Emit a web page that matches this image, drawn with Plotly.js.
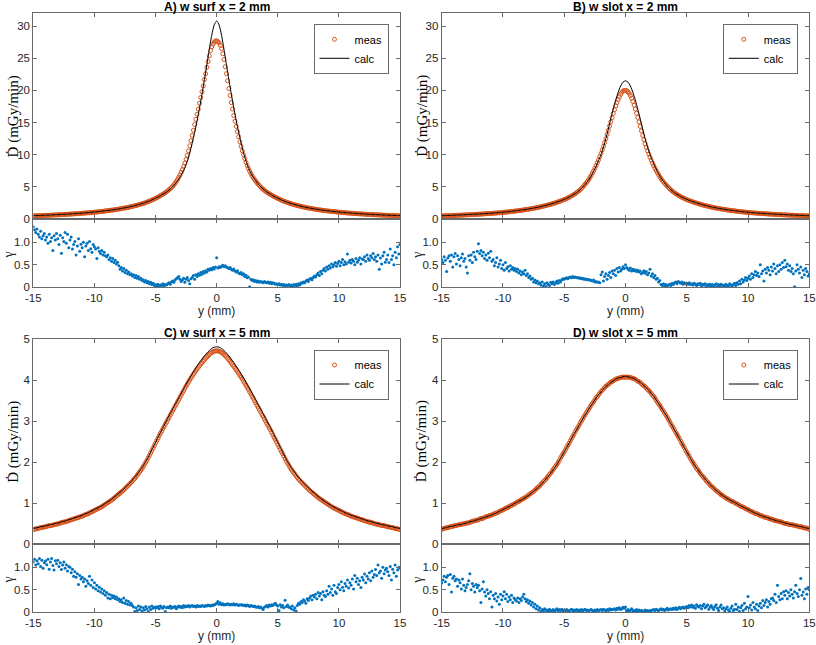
<!DOCTYPE html>
<html>
<head>
<meta charset="utf-8">
<script src="https://cdn.plot.ly/plotly-3.0.1.min.js"></script>
<style>
  html, body { margin: 0; padding: 0; background: #fff; }
  #chart { width: 816px; height: 645px; }
</style>
</head>
<body>
<div id="chart"></div>
<script>
// Lateral positions of the calculated profile (mm)
const yCalc = [
  -15,-14.8,-14.6,-14.4,-14.2,-14,-13.8,-13.6,-13.4,-13.2,
  -13,-12.8,-12.6,-12.4,-12.2,-12,-11.8,-11.6,-11.4,-11.2,
  -11,-10.8,-10.6,-10.4,-10.2,-10,-9.8,-9.6,-9.4,-9.2,
  -9,-8.8,-8.6,-8.4,-8.2,-8,-7.8,-7.6,-7.4,-7.2,
  -7,-6.8,-6.6,-6.4,-6.2,-6,-5.8,-5.6,-5.4,-5.2,
  -5,-4.8,-4.6,-4.4,-4.2,-4,-3.8,-3.6,-3.4,-3.2,
  -3,-2.8,-2.6,-2.4,-2.2,-2,-1.8,-1.6,-1.4,-1.2,
  -1,-0.8,-0.6,-0.4,-0.2,0,0.2,0.4,0.6,0.8,
  1,1.2,1.4,1.6,1.8,2,2.2,2.4,2.6,2.8,
  3,3.2,3.4,3.6,3.8,4,4.2,4.4,4.6,4.8,
  5,5.2,5.4,5.6,5.8,6,6.2,6.4,6.6,6.8,
  7,7.2,7.4,7.6,7.8,8,8.2,8.4,8.6,8.8,
  9,9.2,9.4,9.6,9.8,10,10.2,10.4,10.6,10.8,
  11,11.2,11.4,11.6,11.8,12,12.2,12.4,12.6,12.8,
  13,13.2,13.4,13.6,13.8,14,14.2,14.4,14.6,14.8,15
];

// Lateral positions of the measured samples and gamma values (mm)
const yMeas = [
  -15,-14.9,-14.8,-14.7,-14.6,-14.5,-14.4,-14.3,-14.2,-14.1,
  -14,-13.9,-13.8,-13.7,-13.6,-13.5,-13.4,-13.3,-13.2,-13.1,
  -13,-12.9,-12.8,-12.7,-12.6,-12.5,-12.4,-12.3,-12.2,-12.1,
  -12,-11.9,-11.8,-11.7,-11.6,-11.5,-11.4,-11.3,-11.2,-11.1,
  -11,-10.9,-10.8,-10.7,-10.6,-10.5,-10.4,-10.3,-10.2,-10.1,
  -10,-9.9,-9.8,-9.7,-9.6,-9.5,-9.4,-9.3,-9.2,-9.1,
  -9,-8.9,-8.8,-8.7,-8.6,-8.5,-8.4,-8.3,-8.2,-8.1,
  -8,-7.9,-7.8,-7.7,-7.6,-7.5,-7.4,-7.3,-7.2,-7.1,
  -7,-6.9,-6.8,-6.7,-6.6,-6.5,-6.4,-6.3,-6.2,-6.1,
  -6,-5.9,-5.8,-5.7,-5.6,-5.5,-5.4,-5.3,-5.2,-5.1,
  -5,-4.9,-4.8,-4.7,-4.6,-4.5,-4.4,-4.3,-4.2,-4.1,
  -4,-3.9,-3.8,-3.7,-3.6,-3.5,-3.4,-3.3,-3.2,-3.1,
  -3,-2.9,-2.8,-2.7,-2.6,-2.5,-2.4,-2.3,-2.2,-2.1,
  -2,-1.9,-1.8,-1.7,-1.6,-1.5,-1.4,-1.3,-1.2,-1.1,
  -1,-0.9,-0.8,-0.7,-0.6,-0.5,-0.4,-0.3,-0.2,-0.1,
  0,0.1,0.2,0.3,0.4,0.5,0.6,0.7,0.8,0.9,
  1,1.1,1.2,1.3,1.4,1.5,1.6,1.7,1.8,1.9,
  2,2.1,2.2,2.3,2.4,2.5,2.6,2.7,2.8,2.9,
  3,3.1,3.2,3.3,3.4,3.5,3.6,3.7,3.8,3.9,
  4,4.1,4.2,4.3,4.4,4.5,4.6,4.7,4.8,4.9,
  5,5.1,5.2,5.3,5.4,5.5,5.6,5.7,5.8,5.9,
  6,6.1,6.2,6.3,6.4,6.5,6.6,6.7,6.8,6.9,
  7,7.1,7.2,7.3,7.4,7.5,7.6,7.7,7.8,7.9,
  8,8.1,8.2,8.3,8.4,8.5,8.6,8.7,8.8,8.9,
  9,9.1,9.2,9.3,9.4,9.5,9.6,9.7,9.8,9.9,
  10,10.1,10.2,10.3,10.4,10.5,10.6,10.7,10.8,10.9,
  11,11.1,11.2,11.3,11.4,11.5,11.6,11.7,11.8,11.9,
  12,12.1,12.2,12.3,12.4,12.5,12.6,12.7,12.8,12.9,
  13,13.1,13.2,13.3,13.4,13.5,13.6,13.7,13.8,13.9,
  14,14.1,14.2,14.3,14.4,14.5,14.6,14.7,14.8,14.9,15
];

// A) w surf, x = 2 mm  (mGy/min)
const measA = [
  0.49,0.49,0.50,0.51,0.51,0.52,0.53,0.53,0.54,0.55,
  0.56,0.57,0.58,0.58,0.59,0.60,0.61,0.62,0.63,0.64,
  0.65,0.66,0.67,0.68,0.69,0.70,0.71,0.72,0.73,0.75,
  0.76,0.77,0.78,0.80,0.81,0.82,0.83,0.85,0.86,0.88,
  0.89,0.91,0.92,0.94,0.95,0.97,0.98,1.00,1.02,1.03,
  1.05,1.07,1.09,1.11,1.13,1.16,1.18,1.20,1.22,1.25,
  1.27,1.30,1.32,1.35,1.37,1.40,1.42,1.45,1.48,1.51,
  1.54,1.58,1.61,1.65,1.68,1.72,1.75,1.79,1.83,1.87,
  1.91,1.96,2.00,2.05,2.10,2.15,2.20,2.25,2.31,2.37,
  2.43,2.49,2.56,2.63,2.70,2.78,2.86,2.94,3.03,3.12,
  3.21,3.31,3.41,3.51,3.62,3.74,3.86,3.98,4.10,4.24,
  4.38,4.55,4.72,4.90,5.10,5.32,5.56,5.84,6.15,6.48,
  6.85,7.26,7.7,8.18,8.7,9.28,9.9,10.6,11.4,12.2,
  13.0,13.8,14.7,15.5,16.3,17.1,18.0,18.9,19.8,20.7,
  21.7,22.6,23.6,24.5,25.4,26.2,26.8,27.2,27.5,27.7,
  27.7,27.6,27.4,27.0,26.5,25.7,24.8,23.7,22.6,21.5,
  20.3,19.2,18.1,17.1,16.1,15.2,14.4,13.6,12.8,12.0,
  11.3,10.6,10.0,9.4,8.8,8.3,7.85,7.44,7.05,6.71,
  6.4,6.13,5.88,5.63,5.40,5.18,4.98,4.79,4.62,4.46,
  4.31,4.18,4.05,3.93,3.82,3.71,3.60,3.49,3.39,3.29,
  3.20,3.11,3.02,2.93,2.85,2.77,2.70,2.63,2.56,2.49,
  2.43,2.37,2.31,2.25,2.20,2.15,2.10,2.05,2.00,1.95,
  1.91,1.87,1.83,1.79,1.75,1.71,1.68,1.64,1.61,1.57,
  1.54,1.51,1.48,1.45,1.42,1.40,1.37,1.35,1.32,1.30,
  1.27,1.25,1.23,1.20,1.18,1.16,1.14,1.12,1.10,1.08,
  1.06,1.04,1.02,1.01,0.99,0.97,0.96,0.94,0.93,0.91,
  0.90,0.88,0.87,0.85,0.84,0.83,0.82,0.80,0.79,0.78,
  0.77,0.75,0.74,0.73,0.72,0.71,0.70,0.69,0.68,0.67,
  0.66,0.65,0.64,0.63,0.62,0.61,0.60,0.59,0.59,0.58,
  0.57,0.56,0.55,0.54,0.54,0.53,0.52,0.51,0.51,0.50,0.49
];
const calcA = [
  0.51,0.53,0.54,0.56,0.57,0.59,0.61,0.62,0.64,0.66,
  0.68,0.70,0.72,0.74,0.76,0.79,0.81,0.84,0.86,0.89,
  0.92,0.95,0.98,1.01,1.05,1.08,1.12,1.16,1.21,1.25,
  1.30,1.35,1.40,1.45,1.51,1.57,1.64,1.71,1.78,1.86,
  1.94,2.03,2.13,2.23,2.34,2.46,2.59,2.73,2.88,3.05,
  3.23,3.42,3.62,3.85,4.08,4.35,4.66,5.02,5.45,5.95,
  6.5,7.15,8.0,9.0,10.3,11.8,13.5,15.3,17.3,19.4,
  21.7,24.0,26.4,28.6,30.2,30.8,
  30.2,28.6,26.4,24.0,21.7,
  19.4,17.3,15.3,13.5,11.8,10.3,9.0,8.0,7.15,6.5,
  5.95,5.45,5.02,4.66,4.35,4.08,3.85,3.62,3.42,3.23,
  3.05,2.88,2.73,2.59,2.46,2.34,2.23,2.13,2.03,1.94,
  1.86,1.78,1.71,1.64,1.57,1.51,1.45,1.40,1.35,1.30,
  1.25,1.21,1.16,1.12,1.08,1.05,1.01,0.98,0.95,0.92,
  0.89,0.86,0.84,0.81,0.79,0.76,0.74,0.72,0.70,0.68,
  0.66,0.64,0.62,0.61,0.59,0.57,0.56,0.54,0.53,0.51
];
const gammaA = [
  1.35,1.28,1.22,1.30,1.18,1.12,1.25,1.08,1.15,1.20,
  1.05,1.12,0.98,1.18,1.02,1.10,0.82,1.15,1.05,1.20,
  1.08,0.95,1.16,0.76,1.10,1.02,1.22,0.98,1.18,0.88,
  1.05,1.12,0.85,0.95,1.02,0.72,0.92,1.08,0.80,0.96,
  0.88,1.00,0.68,0.92,0.98,0.82,1.02,0.86,0.78,0.95,
  0.90,0.85,0.64,0.88,0.80,0.75,0.82,0.72,0.78,0.70,
  0.68,0.72,0.62,0.66,0.58,0.64,0.55,0.60,0.52,0.56,
  0.48,0.40,0.44,0.36,0.42,0.33,0.38,0.30,0.34,0.28,
  0.30,0.25,0.28,0.22,0.26,0.20,0.24,0.18,0.20,0.15,
  0.17,0.12,0.15,0.10,0.13,0.08,0.11,0.06,0.09,0.04,
  0.06,0.03,0.07,0.02,0.05,0.04,0.08,0.03,0.06,0.05,
  0.08,0.10,0.07,0.12,0.14,0.11,0.16,0.19,0.21,0.24,
  0.18,0.13,0.16,0.20,0.11,0.18,0.22,0.15,0.08,0.19,
  0.22,0.26,0.18,0.28,0.24,0.30,0.27,0.33,0.29,0.35,
  0.32,0.37,0.34,0.40,0.38,0.42,0.39,0.44,0.41,0.45,
  0.66,0.43,0.46,0.44,0.47,0.49,0.46,0.48,0.45,0.44,
  0.42,0.44,0.40,0.38,0.41,0.36,0.34,0.37,0.32,0.30,
  0.33,0.28,0.30,0.24,0.27,0.21,0.23,0.01,0.18,0.15,
  0.17,0.13,0.15,0.12,0.14,0.11,0.13,0.12,0.10,0.13,
  0.11,0.10,0.12,0.09,0.11,0.08,0.10,0.09,0.07,0.08,
  0.06,0.08,0.05,0.07,0.04,0.06,0.03,0.05,0.04,0.06,
  0.03,0.05,0.02,0.06,0.04,0.07,0.03,0.08,0.05,0.10,
  0.09,0.12,0.10,0.14,0.16,0.13,0.18,0.20,0.17,0.22,
  0.25,0.23,0.28,0.32,0.26,0.35,0.30,0.38,0.42,0.36,
  0.45,0.40,0.48,0.43,0.52,0.46,0.50,0.55,0.47,0.53,
  0.58,0.48,0.55,0.62,0.50,0.57,0.52,0.74,0.56,0.60,
  0.54,0.62,0.58,0.50,0.64,0.56,0.60,0.66,0.52,0.63,
  0.62,0.68,0.58,0.72,0.64,0.60,0.70,0.66,0.75,0.62,
  0.68,0.58,0.72,0.40,0.65,0.52,0.70,0.78,0.56,0.62,
  0.72,0.55,0.85,0.62,0.70,0.50,0.78,0.66,0.90,0.74,0.95
];

// B) w slot, x = 2 mm
const measB = [
  0.48,0.49,0.50,0.50,0.51,0.51,0.52,0.53,0.54,0.54,
  0.55,0.56,0.57,0.58,0.59,0.59,0.60,0.61,0.62,0.63,
  0.64,0.65,0.66,0.67,0.68,0.69,0.70,0.71,0.72,0.73,
  0.74,0.75,0.76,0.78,0.79,0.80,0.81,0.83,0.84,0.85,
  0.86,0.88,0.89,0.91,0.92,0.94,0.95,0.97,0.99,1.00,
  1.02,1.04,1.06,1.08,1.10,1.12,1.14,1.17,1.19,1.21,
  1.23,1.26,1.28,1.31,1.33,1.36,1.38,1.41,1.44,1.47,
  1.50,1.53,1.56,1.60,1.63,1.67,1.70,1.74,1.78,1.82,
  1.86,1.90,1.95,2.00,2.04,2.09,2.14,2.19,2.24,2.30,
  2.35,2.41,2.47,2.53,2.60,2.66,2.73,2.80,2.87,2.95,
  3.02,3.10,3.19,3.28,3.38,3.48,3.59,3.71,3.83,3.95,
  4.08,4.23,4.39,4.56,4.75,4.95,5.17,5.39,5.63,5.88,
  6.15,6.47,6.8,7.15,7.5,7.9,8.3,8.75,9.2,9.7,
  10.2,10.75,11.3,11.9,12.5,13.15,13.8,14.45,15.1,15.75,
  16.4,17.0,17.6,18.1,18.6,19.0,19.4,19.7,19.9,20.0,
  20.0,19.95,19.8,19.55,19.2,18.8,18.3,17.7,17.1,16.45,
  15.8,15.1,14.4,13.7,13.0,12.35,11.7,11.15,10.6,10.1,
  9.6,9.15,8.7,8.3,7.9,7.55,7.2,6.87,6.55,6.27,
  6.0,5.77,5.55,5.33,5.11,4.91,4.72,4.54,4.37,4.22,
  4.07,3.94,3.82,3.70,3.59,3.48,3.38,3.28,3.19,3.10,
  3.02,2.94,2.87,2.80,2.73,2.66,2.60,2.53,2.47,2.41,
  2.35,2.30,2.24,2.19,2.14,2.09,2.04,2.00,1.95,1.90,
  1.86,1.82,1.78,1.74,1.70,1.67,1.63,1.60,1.56,1.53,
  1.50,1.47,1.44,1.41,1.38,1.36,1.33,1.31,1.28,1.26,
  1.23,1.21,1.19,1.17,1.14,1.12,1.10,1.08,1.06,1.04,
  1.02,1.00,0.99,0.97,0.95,0.94,0.92,0.91,0.89,0.88,
  0.86,0.85,0.84,0.83,0.81,0.80,0.79,0.78,0.76,0.75,
  0.74,0.73,0.72,0.71,0.70,0.69,0.68,0.67,0.66,0.65,
  0.64,0.63,0.62,0.61,0.60,0.59,0.59,0.58,0.57,0.56,
  0.55,0.54,0.54,0.53,0.52,0.51,0.51,0.50,0.50,0.49,0.48
];
const calcB = [
  0.51,0.52,0.54,0.55,0.57,0.58,0.60,0.62,0.63,0.65,
  0.67,0.69,0.71,0.73,0.75,0.77,0.79,0.82,0.84,0.87,
  0.89,0.92,0.95,0.98,1.02,1.05,1.09,1.13,1.17,1.22,
  1.26,1.31,1.36,1.41,1.47,1.53,1.59,1.66,1.73,1.81,
  1.89,1.98,2.07,2.17,2.27,2.38,2.50,2.63,2.76,2.90,
  3.05,3.22,3.41,3.62,3.85,4.1,4.4,4.75,5.15,5.6,
  6.1,6.7,7.4,8.2,9.1,10.0,11.2,12.5,14.0,15.6,
  17.1,18.5,19.7,20.7,21.3,21.5,
  21.3,20.7,19.7,18.5,17.1,15.6,14.0,12.5,11.2,10.0,
  9.1,8.2,7.4,6.7,6.1,5.6,5.15,4.75,4.4,4.1,
  3.85,3.62,3.41,3.22,3.05,2.90,2.76,2.63,2.50,2.38,
  2.27,2.17,2.07,1.98,1.89,1.81,1.73,1.66,1.59,1.53,
  1.47,1.41,1.36,1.31,1.26,1.22,1.17,1.13,1.09,1.05,
  1.02,0.98,0.95,0.92,0.89,0.87,0.84,0.82,0.79,0.77,
  0.75,0.73,0.71,0.69,0.67,0.65,0.63,0.62,0.60,0.58,
  0.57,0.55,0.54,0.52,0.51
];
const gammaB = [
  0.62,0.55,0.68,0.60,0.35,0.65,0.70,0.58,0.72,0.45,
  0.68,0.75,0.52,0.70,0.62,0.48,0.66,0.74,0.58,0.64,
  0.45,0.32,0.70,0.60,0.72,0.55,0.78,0.68,0.62,0.80,
  0.97,0.75,0.82,0.70,0.78,0.64,0.72,0.60,0.76,0.66,
  0.80,0.58,0.62,0.48,0.55,0.66,0.45,0.52,0.60,0.42,
  0.50,0.38,0.55,0.42,0.46,0.36,0.48,0.40,0.44,0.38,
  0.42,0.35,0.40,0.32,0.36,0.28,0.34,0.30,0.38,0.26,
  0.30,0.22,0.25,0.18,0.20,0.12,0.16,0.10,0.14,0.08,
  0.10,0.05,0.12,0.03,0.08,0.02,0.10,0.06,0.04,0.11,
  0.08,0.12,0.06,0.10,0.14,0.09,0.15,0.12,0.17,0.19,
  0.18,0.20,0.21,0.19,0.22,0.23,0.21,0.24,0.22,0.23,
  0.21,0.22,0.20,0.21,0.19,0.20,0.18,0.19,0.17,0.18,
  0.16,0.17,0.15,0.14,0.16,0.12,0.13,0.11,0.12,0.10,
  0.28,0.34,0.14,0.24,0.30,0.18,0.26,0.33,0.22,0.36,
  0.30,0.38,0.26,0.42,0.34,0.44,0.36,0.40,0.46,0.42,
  0.50,0.44,0.41,0.38,0.43,0.36,0.40,0.37,0.39,0.35,
  0.38,0.34,0.36,0.30,0.33,0.37,0.31,0.35,0.28,0.32,
  0.40,0.25,0.30,0.22,0.26,0.18,0.20,0.12,0.15,0.06,
  0.04,0.08,0.03,0.06,0.02,0.05,0.07,0.04,0.09,0.06,
  0.10,0.12,0.08,0.13,0.11,0.09,0.12,0.07,0.10,0.08,
  0.09,0.07,0.10,0.06,0.08,0.05,0.09,0.07,0.04,0.08,
  0.06,0.09,0.03,0.07,0.05,0.08,0.02,0.06,0.04,0.07,
  0.03,0.06,0.01,0.05,0.08,0.02,0.06,0.03,0.07,0.04,
  0.05,0.02,0.07,0.04,0.03,0.08,0.05,0.02,0.06,0.09,
  0.04,0.10,0.07,0.14,0.08,0.18,0.12,0.16,0.22,0.15,
  0.20,0.25,0.18,0.30,0.22,0.28,0.35,0.26,0.32,0.24,
  0.50,0.30,0.36,0.14,0.40,0.32,0.44,0.38,0.28,0.45,
  0.36,0.52,0.42,0.30,0.48,0.35,0.50,0.40,0.55,0.44,
  0.60,0.46,0.52,0.38,0.48,0.35,0.42,0.30,0.01,0.36,
  0.50,0.40,0.32,0.45,0.22,0.38,0.28,0.42,0.35,0.25,0.30
];

// C) w surf, x = 5 mm
const measC = [
  0.35,0.36,0.37,0.375,0.38,0.39,0.40,0.405,0.41,0.415,
  0.42,0.43,0.44,0.445,0.45,0.455,0.46,0.47,0.48,0.485,
  0.49,0.50,0.51,0.52,0.53,0.535,0.54,0.55,0.56,0.57,
  0.58,0.59,0.60,0.61,0.62,0.63,0.64,0.65,0.66,0.67,
  0.68,0.69,0.71,0.72,0.73,0.74,0.76,0.77,0.79,0.80,
  0.82,0.83,0.85,0.86,0.88,0.89,0.91,0.93,0.95,0.97,
  0.99,1.01,1.03,1.05,1.07,1.09,1.12,1.14,1.17,1.19,
  1.22,1.24,1.27,1.29,1.32,1.35,1.38,1.41,1.44,1.47,
  1.50,1.53,1.57,1.60,1.64,1.68,1.72,1.76,1.80,1.84,
  1.89,1.94,1.99,2.04,2.10,2.16,2.22,2.28,2.34,2.40,
  2.46,2.52,2.58,2.64,2.70,2.75,2.81,2.86,2.92,2.97,
  3.03,3.08,3.14,3.19,3.25,3.30,3.36,3.41,3.47,3.52,
  3.58,3.63,3.69,3.74,3.80,3.85,3.90,3.95,4.00,4.05,
  4.09,4.14,4.18,4.23,4.27,4.31,4.35,4.39,4.42,4.46,
  4.49,4.53,4.56,4.59,4.62,4.65,4.67,4.69,4.70,4.71,
  4.71,4.71,4.70,4.69,4.67,4.65,4.62,4.59,4.56,4.53,
  4.49,4.45,4.41,4.37,4.33,4.29,4.25,4.20,4.16,4.11,
  4.07,4.02,3.97,3.92,3.87,3.82,3.77,3.71,3.66,3.60,
  3.55,3.49,3.44,3.38,3.33,3.27,3.22,3.16,3.11,3.05,
  3.00,2.94,2.89,2.83,2.78,2.72,2.66,2.60,2.55,2.49,
  2.43,2.37,2.31,2.25,2.20,2.14,2.08,2.02,1.97,1.92,
  1.87,1.82,1.78,1.74,1.70,1.66,1.62,1.58,1.55,1.52,
  1.49,1.46,1.43,1.40,1.37,1.34,1.31,1.28,1.26,1.23,
  1.21,1.18,1.16,1.13,1.11,1.09,1.07,1.05,1.03,1.01,
  0.99,0.97,0.95,0.93,0.91,0.89,0.88,0.86,0.85,0.83,
  0.82,0.80,0.79,0.77,0.76,0.74,0.73,0.72,0.71,0.69,
  0.68,0.67,0.66,0.65,0.64,0.63,0.62,0.61,0.60,0.59,
  0.58,0.57,0.56,0.55,0.54,0.535,0.53,0.52,0.51,0.50,
  0.49,0.485,0.48,0.47,0.46,0.455,0.45,0.445,0.44,0.43,
  0.42,0.415,0.41,0.405,0.40,0.39,0.38,0.375,0.37,0.36,0.35
];
const calcC = [
  0.38,0.39,0.40,0.42,0.43,0.44,0.46,0.47,0.48,0.50,
  0.51,0.53,0.55,0.56,0.58,0.60,0.62,0.64,0.66,0.68,
  0.70,0.73,0.75,0.78,0.81,0.84,0.87,0.90,0.93,0.97,
  1.01,1.05,1.09,1.14,1.19,1.24,1.29,1.34,1.40,1.46,
  1.52,1.59,1.66,1.74,1.82,1.91,2.01,2.12,2.24,2.36,
  2.48,2.60,2.72,2.84,2.95,3.07,3.18,3.29,3.40,3.51,
  3.62,3.73,3.84,3.95,4.05,4.15,4.25,4.34,4.43,4.51,
  4.59,4.66,4.72,4.77,4.80,4.81,
  4.80,4.77,4.72,4.66,4.59,4.51,4.43,4.34,4.25,4.15,
  4.05,3.95,3.84,3.73,3.62,3.51,3.40,3.29,3.18,3.07,
  2.95,2.84,2.72,2.60,2.48,2.36,2.24,2.12,2.01,1.91,
  1.82,1.74,1.66,1.59,1.52,1.46,1.40,1.34,1.29,1.24,
  1.19,1.14,1.09,1.05,1.01,0.97,0.93,0.90,0.87,0.84,
  0.81,0.78,0.75,0.73,0.70,0.68,0.66,0.64,0.62,0.60,
  0.58,0.56,0.55,0.53,0.51,0.50,0.48,0.47,0.46,0.44,
  0.43,0.42,0.40,0.39,0.38
];
const gammaC = [
  1.12,1.18,1.05,1.15,1.08,1.20,1.02,1.16,0.98,1.10,
  1.14,1.06,1.18,0.96,1.12,1.20,1.04,0.94,1.15,1.08,
  1.16,1.02,1.10,0.95,1.05,1.12,0.98,1.06,0.92,1.02,
  1.00,0.88,0.96,0.80,0.90,0.78,0.86,0.62,0.82,0.74,
  0.78,0.68,0.74,0.58,0.70,0.64,0.80,0.60,0.72,0.55,
  0.66,0.52,0.60,0.48,0.56,0.45,0.52,0.42,0.48,0.38,
  0.44,0.32,0.40,0.30,0.38,0.33,0.36,0.30,0.34,0.28,
  0.30,0.24,0.28,0.22,0.32,0.20,0.26,0.18,0.24,0.16,
  0.20,0.15,0.12,0.02,0.10,0.04,0.14,0.06,0.12,0.03,
  0.10,0.05,0.13,0.08,0.02,0.12,0.06,0.14,0.09,0.11,
  0.12,0.10,0.13,0.08,0.14,0.11,0.09,0.13,0.02,0.10,
  0.12,0.10,0.14,0.09,0.12,0.11,0.13,0.08,0.12,0.14,
  0.11,0.13,0.10,0.15,0.12,0.14,0.13,0.15,0.12,0.14,
  0.15,0.13,0.14,0.12,0.15,0.13,0.14,0.13,0.15,0.14,
  0.13,0.15,0.14,0.16,0.15,0.14,0.16,0.15,0.17,0.18,
  0.20,0.24,0.18,0.21,0.17,0.19,0.16,0.18,0.17,0.19,
  0.18,0.16,0.18,0.17,0.19,0.16,0.18,0.17,0.15,0.17,
  0.16,0.17,0.15,0.16,0.14,0.16,0.15,0.13,0.15,0.14,
  0.13,0.14,0.12,0.11,0.13,0.10,0.12,0.09,0.06,0.11,
  0.13,0.15,0.12,0.16,0.14,0.17,0.15,0.18,0.20,0.16,
  0.14,0.04,0.17,0.12,0.15,0.10,0.27,0.13,0.16,0.11,
  0.12,0.08,0.14,0.05,0.10,0.03,0.15,0.20,0.18,0.24,
  0.22,0.28,0.25,0.20,0.30,0.26,0.32,0.36,0.28,0.38,
  0.34,0.40,0.30,0.44,0.36,0.42,0.28,0.46,0.38,0.35,
  0.48,0.40,0.58,0.44,0.52,0.38,0.60,0.46,0.42,0.55,
  0.62,0.50,0.68,0.56,0.48,0.64,0.58,0.72,0.54,0.66,
  0.60,0.74,0.52,0.82,0.68,0.76,0.62,0.70,0.55,0.78,
  0.72,0.85,0.66,0.80,0.74,0.88,0.70,0.92,0.78,0.84,
  0.95,0.82,1.05,0.88,0.92,0.76,1.00,0.86,0.94,0.98,
  0.90,0.82,1.02,0.72,0.96,0.88,1.05,0.80,0.94,1.00,0.98
];

// D) w slot, x = 5 mm
const measD = [
  0.36,0.37,0.38,0.39,0.40,0.40,0.41,0.42,0.43,0.43,
  0.44,0.45,0.45,0.46,0.47,0.47,0.48,0.49,0.49,0.50,
  0.51,0.51,0.52,0.53,0.54,0.55,0.56,0.57,0.58,0.58,
  0.59,0.61,0.62,0.62,0.63,0.65,0.66,0.67,0.68,0.69,
  0.70,0.71,0.72,0.74,0.75,0.76,0.77,0.79,0.81,0.82,
  0.83,0.85,0.87,0.88,0.89,0.91,0.93,0.94,0.96,0.97,
  0.99,1.01,1.03,1.04,1.06,1.08,1.10,1.11,1.13,1.15,
  1.17,1.20,1.22,1.24,1.26,1.28,1.31,1.34,1.37,1.39,
  1.42,1.46,1.49,1.52,1.55,1.58,1.62,1.66,1.70,1.73,
  1.77,1.82,1.86,1.90,1.94,1.99,2.04,2.10,2.15,2.20,
  2.25,2.30,2.36,2.41,2.46,2.52,2.58,2.63,2.68,2.74,
  2.79,2.84,2.89,2.95,3.00,3.05,3.10,3.15,3.20,3.25,
  3.29,3.34,3.39,3.43,3.47,3.52,3.57,3.60,3.64,3.68,
  3.72,3.75,3.78,3.82,3.85,3.87,3.89,3.92,3.95,3.96,
  3.98,4.00,4.02,4.03,4.04,4.05,4.06,4.07,4.07,4.07,
  4.07,4.07,4.07,4.07,4.06,4.05,4.04,4.03,4.02,3.99,
  3.97,3.96,3.94,3.91,3.88,3.86,3.84,3.80,3.77,3.74,
  3.71,3.67,3.63,3.60,3.56,3.51,3.46,3.42,3.38,3.33,
  3.28,3.24,3.19,3.14,3.09,3.04,2.99,2.93,2.88,2.83,
  2.78,2.72,2.67,2.62,2.57,2.51,2.45,2.40,2.35,2.29,
  2.24,2.19,2.14,2.08,2.03,1.99,1.94,1.89,1.84,1.81,
  1.77,1.72,1.68,1.65,1.62,1.58,1.54,1.51,1.48,1.44,
  1.41,1.39,1.36,1.33,1.30,1.28,1.26,1.23,1.20,1.19,
  1.17,1.14,1.12,1.11,1.09,1.07,1.05,1.04,1.03,1.01,
  0.99,0.98,0.96,0.94,0.92,0.91,0.90,0.88,0.86,0.85,
  0.84,0.82,0.80,0.79,0.78,0.76,0.74,0.74,0.73,0.71,
  0.69,0.69,0.68,0.66,0.65,0.65,0.64,0.62,0.61,0.61,
  0.60,0.58,0.57,0.57,0.56,0.55,0.54,0.54,0.53,0.51,
  0.50,0.50,0.50,0.48,0.47,0.47,0.47,0.46,0.45,0.45,
  0.44,0.43,0.42,0.42,0.42,0.40,0.39,0.39,0.39,0.37,0.36
];
const calcD = [
  0.37,0.39,0.40,0.42,0.43,0.44,0.46,0.47,0.48,0.50,
  0.51,0.53,0.55,0.56,0.58,0.60,0.62,0.64,0.66,0.68,
  0.70,0.73,0.75,0.78,0.81,0.84,0.87,0.90,0.93,0.96,
  1.00,1.03,1.06,1.09,1.13,1.17,1.21,1.26,1.31,1.36,
  1.42,1.48,1.55,1.62,1.69,1.77,1.85,1.94,2.04,2.14,
  2.25,2.35,2.46,2.57,2.68,2.78,2.89,2.99,3.10,3.19,
  3.29,3.38,3.47,3.56,3.64,3.71,3.78,3.84,3.89,3.94,
  3.98,4.02,4.05,4.06,4.08,4.09,
  4.08,4.06,4.05,4.02,3.98,3.94,3.89,3.84,3.78,3.71,
  3.64,3.56,3.47,3.38,3.29,3.19,3.10,2.99,2.89,2.78,
  2.68,2.57,2.46,2.35,2.25,2.14,2.04,1.94,1.85,1.77,
  1.69,1.62,1.55,1.48,1.42,1.36,1.31,1.26,1.21,1.17,
  1.13,1.09,1.06,1.03,1.00,0.96,0.93,0.90,0.87,0.84,
  0.81,0.78,0.75,0.73,0.70,0.68,0.66,0.64,0.62,0.60,
  0.58,0.56,0.55,0.53,0.51,0.50,0.48,0.47,0.46,0.44,
  0.43,0.42,0.40,0.39,0.37
];
const gammaD = [
  0.65,0.72,0.80,0.68,0.78,0.82,0.62,0.84,0.45,0.76,
  0.80,0.70,0.74,0.58,0.72,0.66,0.52,0.74,0.60,0.48,
  0.55,0.62,0.70,0.86,0.50,0.64,0.58,0.45,0.62,0.55,
  0.60,0.48,0.22,0.52,0.68,0.45,0.36,0.50,0.42,0.30,
  0.46,0.12,0.38,0.30,0.42,0.25,0.34,0.18,0.40,0.28,
  0.36,0.46,0.30,0.40,0.24,0.34,0.28,0.38,0.22,0.32,
  0.28,0.25,0.32,0.22,0.30,0.26,0.34,0.40,0.30,0.24,
  0.28,0.20,0.25,0.16,0.22,0.12,0.18,0.08,0.14,0.05,
  0.10,0.02,0.06,0.04,0.08,0.01,0.05,0.03,0.07,0.02,
  0.04,0.06,0.02,0.05,0.08,0.03,0.06,0.04,0.07,0.03,
  0.05,0.03,0.06,0.04,0.02,0.05,0.07,0.03,0.05,0.04,
  0.06,0.03,0.05,0.04,0.06,0.02,0.05,0.07,0.04,0.05,
  0.03,0.05,0.06,0.04,0.02,0.05,0.03,0.06,0.04,0.05,
  0.06,0.04,0.07,0.05,0.03,0.06,0.04,0.08,0.05,0.07,
  0.06,0.08,0.05,0.09,0.07,0.10,0.06,0.08,0.11,0.09,
  0.12,0.03,0.06,0.02,0.05,0.08,0.03,0.04,0.02,0.06,
  0.03,0.05,0.02,0.04,0.03,0.02,0.05,0.03,0.04,0.02,
  0.04,0.03,0.05,0.06,0.04,0.07,0.05,0.03,0.06,0.08,
  0.05,0.07,0.04,0.06,0.09,0.05,0.07,0.08,0.06,0.09,
  0.07,0.10,0.06,0.09,0.11,0.08,0.10,0.12,0.09,0.11,
  0.13,0.10,0.15,0.12,0.16,0.11,0.14,0.09,0.17,0.13,
  0.12,0.15,0.08,0.14,0.18,0.10,0.13,0.16,0.07,0.12,
  0.15,0.10,0.06,0.13,0.17,0.09,0.04,0.12,0.16,0.08,
  0.10,0.03,0.08,0.12,0.05,0.02,0.09,0.14,0.04,0.07,
  0.18,0.06,0.12,0.02,0.10,0.15,0.04,0.20,0.08,0.12,
  0.35,0.10,0.16,0.05,0.22,0.12,0.08,0.18,0.04,0.14,
  0.20,0.10,0.26,0.15,0.22,0.28,0.12,0.24,0.18,0.30,
  0.32,0.26,0.40,0.22,0.60,0.35,0.28,0.42,0.30,0.46,
  0.38,0.48,0.30,0.44,0.36,0.50,0.40,0.32,0.46,0.60,
  0.42,0.35,0.50,0.75,0.38,0.45,0.30,0.52,0.40,0.55,0.50
];

const panelTitles = ['A) w surf x = 2 mm', 'B) w slot x = 2 mm', 'C) w surf x = 5 mm', 'D) w slot x = 5 mm'];
const doseTicks = [[0, 5, 10, 15, 20, 25, 30], [0, 1, 2, 3, 4, 5]];
const gammaTickVals = [0, 0.5, 1];
const gammaTickText = ['0', '0.5', '1.0'];
const yTickVals = [-15, -10, -5, 0, 5, 10, 15];
const yTickText = ['-15', '-10', '-5', '0', '5', '10', '15'];

// ---- drawing ----
const W = 816, H = 645;
const px = v => v / W;
const py = v => 1 - v / H;

const MEAS_COLOR = '#D95319';
const GAMMA_COLOR = '#0072BD';
const AXIS_COLOR = '#6a6a6a';
const SANS = 'Liberation Sans, Arial, sans-serif';
const TICK_FONT = { family: SANS, size: 11.5, color: '#262626' };

// plot-box pixel geometry of each panel: [left, right, top, split, bottom]
const boxes = [
  [33.3, 400, 13.3, 219, 287.3],
  [441.7, 809.3, 13.3, 219, 287.3],
  [33.3, 400, 339, 544, 612.3],
  [441.7, 809.3, 339, 544, 612.3]
];
const panels = [
  { meas: measA, calc: calcA, gamma: gammaA, range: [0, 32], ticks: doseTicks[0] },
  { meas: measB, calc: calcB, gamma: gammaB, range: [0, 32], ticks: doseTicks[0] },
  { meas: measC, calc: calcC, gamma: gammaC, range: [0, 5], ticks: doseTicks[1] },
  { meas: measD, calc: calcD, gamma: gammaD, range: [0, 5], ticks: doseTicks[1] }
];

const baseAxis = {
  showline: true, linecolor: AXIS_COLOR, linewidth: 1, mirror: 'ticks',
  ticks: 'inside', ticklen: 4, tickcolor: AXIS_COLOR, tickwidth: 1,
  showgrid: false, zeroline: false, fixedrange: true, tickfont: TICK_FONT
};

const traces = [];
const layout = {
  width: W, height: H,
  margin: { l: 0, r: 0, t: 0, b: 0 },
  paper_bgcolor: '#fff', plot_bgcolor: '#fff',
  showlegend: true,
  annotations: []
};

panels.forEach((p, i) => {
  const b = boxes[i];
  const mainN = 2 * i + 1, gamN = 2 * i + 2;
  const mx = mainN === 1 ? 'x' : 'x' + mainN, my = mainN === 1 ? 'y' : 'y' + mainN;
  const gx = 'x' + gamN, gy = 'y' + gamN;
  const legName = i === 0 ? 'legend' : 'legend' + (i + 1);

  traces.push({
    x: yMeas, y: p.meas, xaxis: mx, yaxis: my, type: 'scatter', mode: 'markers',
    name: 'meas', legend: legName,
    marker: { symbol: 'circle-open', size: 4, color: MEAS_COLOR, line: { width: 1, color: MEAS_COLOR } }
  });
  traces.push({
    x: yCalc, y: p.calc, xaxis: mx, yaxis: my, type: 'scatter', mode: 'lines',
    name: 'calc', legend: legName,
    line: { color: '#000', width: 1, shape: 'spline', smoothing: 0.6 }
  });
  traces.push({
    x: yMeas, y: p.gamma, xaxis: gx, yaxis: gy, type: 'scatter', mode: 'markers',
    showlegend: false,
    marker: { symbol: 'circle', size: 3, color: GAMMA_COLOR }
  });

  const xDom = [px(b[0]), px(b[1])];
  layout['xaxis' + (mainN === 1 ? '' : mainN)] = Object.assign({}, baseAxis, {
    domain: xDom, anchor: my, range: [-15, 15], tickvals: yTickVals, showticklabels: false
  });
  layout['yaxis' + (mainN === 1 ? '' : mainN)] = Object.assign({}, baseAxis, {
    domain: [py(b[3]), py(b[2])], anchor: mx, range: p.range, tickvals: p.ticks
  });
  layout['xaxis' + gamN] = Object.assign({}, baseAxis, {
    domain: xDom, anchor: gy, range: [-15, 15], tickvals: yTickVals, ticktext: yTickText
  });
  layout['yaxis' + gamN] = Object.assign({}, baseAxis, {
    domain: [py(b[4]), py(b[3])], anchor: gx, range: [0, 1.52],
    tickvals: gammaTickVals, ticktext: gammaTickText
  });

  layout[legName] = {
    x: px(b[1] - 11.5), xanchor: 'right', y: py(b[2] + 10.5), yanchor: 'top',
    bgcolor: '#fff', bordercolor: AXIS_COLOR, borderwidth: 1,
    font: { family: SANS, size: 11, color: '#000' },
    tracegroupgap: 0, itemwidth: 30
  };

  const cx = (b[0] + b[1]) / 2;
  // panel title
  layout.annotations.push({
    text: '<b>' + panelTitles[i] + '</b>', xref: 'paper', yref: 'paper',
    x: px(cx), y: py(b[2] - 6), xanchor: 'center', yanchor: 'middle', showarrow: false,
    font: { family: SANS, size: 12, color: '#000' }
  });
  // dose-rate axis title
  layout.annotations.push({
    text: 'Ḋ (mGy/min)', xref: 'paper', yref: 'paper', textangle: -90,
    x: px(b[0] - 20), y: py((b[2] + b[3]) / 2), xanchor: 'center', yanchor: 'middle', showarrow: false,
    font: { family: 'Liberation Serif, DejaVu Serif, serif', size: 15, color: '#000' }
  });
  // gamma axis title
  layout.annotations.push({
    text: 'γ', xref: 'paper', yref: 'paper', textangle: -90,
    x: px(b[0] - 25), y: py((b[3] + b[4]) / 2 + 2), xanchor: 'center', yanchor: 'middle', showarrow: false,
    font: { family: 'Liberation Serif, DejaVu Serif, serif', size: 14, color: '#262626' }
  });
  // lateral position axis title
  layout.annotations.push({
    text: 'y (mm)', xref: 'paper', yref: 'paper',
    x: px(cx), y: py(b[4] + 24), xanchor: 'center', yanchor: 'middle', showarrow: false,
    font: { family: SANS, size: 12, color: '#262626' }
  });
});

Plotly.newPlot('chart', traces, layout, { displayModeBar: false, staticPlot: true });
</script>
</body>
</html>
